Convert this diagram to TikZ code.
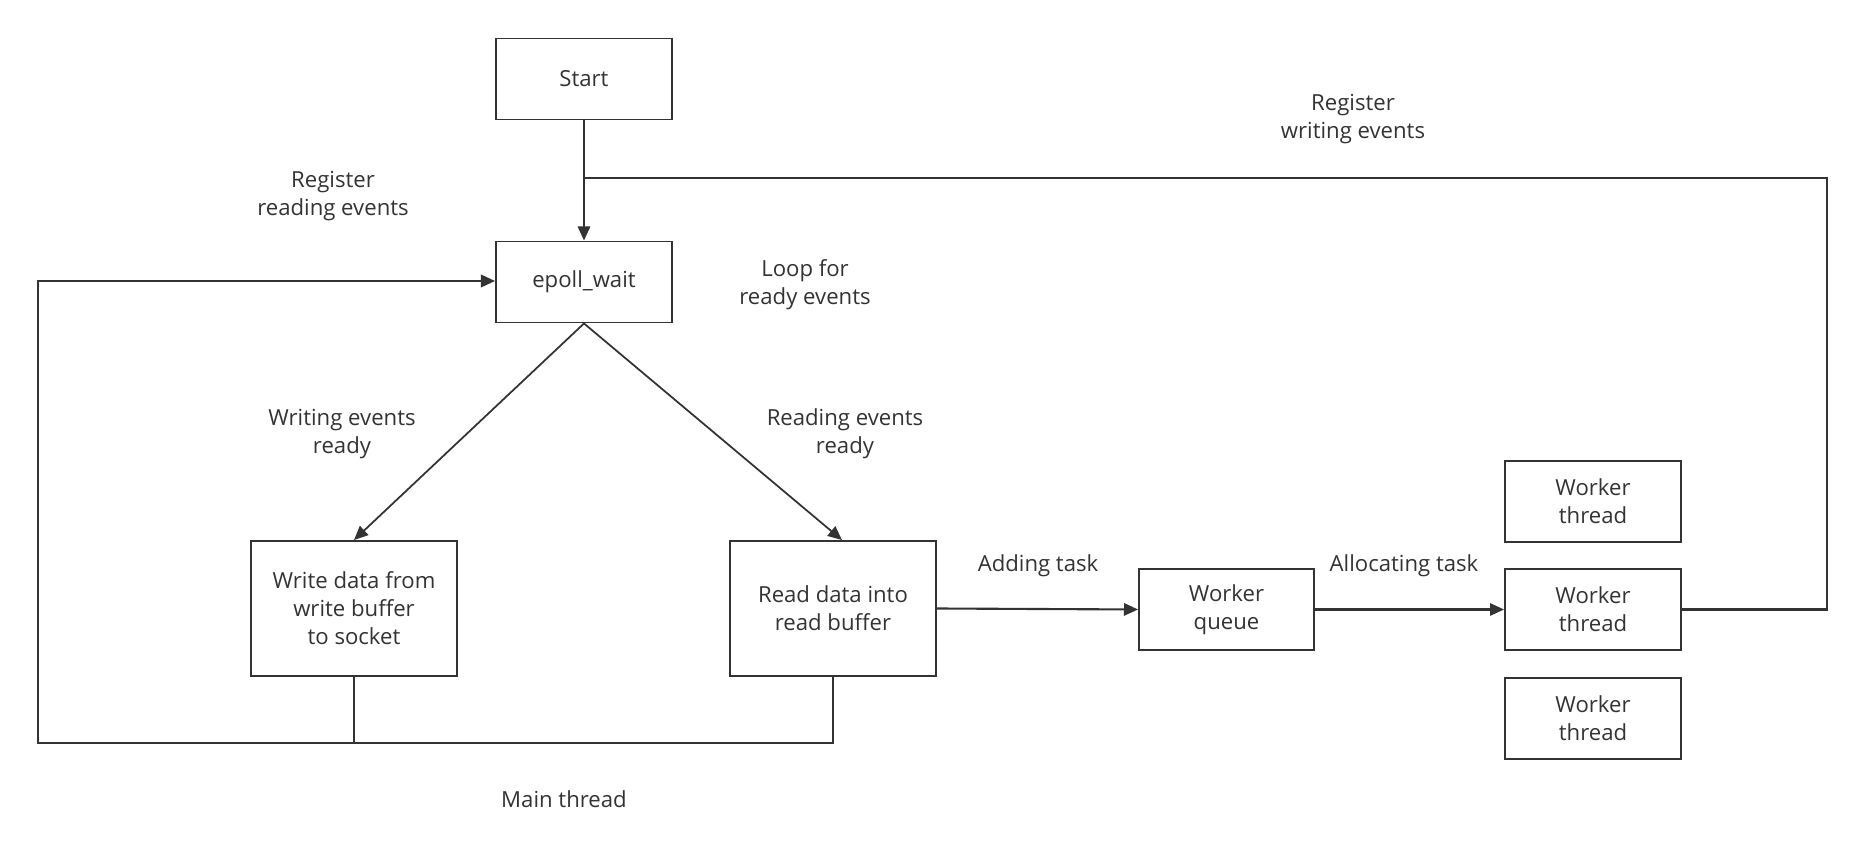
\documentclass[tikz,border=0pt]{standalone}
\usepackage{fontspec}
\setmainfont{Open Sans}
\usetikzlibrary{arrows.meta}

\definecolor{ink}{HTML}{333333}

\begin{document}
\begin{tikzpicture}[x=0.02cm,y=-0.02cm,>={Triangle[length=8pt,width=7pt]},
  font=\fontsize{12.6}{16}\selectfont,
  box/.style={draw=ink,line width=1.1pt,text=ink,align=center,inner sep=0pt,
    minimum width=3.52cm,minimum height=1.62cm},
  bigbox/.style={box,minimum width=4.12cm,minimum height=2.7cm},
  wire/.style={draw=ink,line width=1.2pt},
  lbl/.style={text=ink,align=center,inner sep=0pt}]

\useasboundingbox (0,0) rectangle (1864,864);

% boxes
\node[box] (start) at (584,79) {Start};
\node[box] (epoll) at (584,282) {epoll\_wait};
\node[bigbox] (write) at (354,608.5) {Write data from\\write buffer\\to socket};
\node[bigbox] (read) at (833,608.5) {Read data into\\read buffer};
\node[box,minimum width=3.5cm] (queue) at (1226.5,609.5) {Worker\\queue};
\node[box] (wt1) at (1593,501.5) {Worker\\thread};
\node[box] (wt2) at (1593,609.5) {Worker\\thread};
\node[box] (wt3) at (1593,718.5) {Worker\\thread};

% corner points of the wires
\coordinate (junc) at (584,178);
\coordinate (ne) at (1827,178);
\coordinate (sw) at (38,743);

% main thread
\draw[wire,->] (start.south) -- (epoll.north);
\draw[wire,line width=1pt,->] (epoll.south) -- (write.north);
\draw[wire,line width=1pt,->] (epoll.south) -- ([xshift=0.18cm]read.north);
\draw[wire,line width=1pt] (read.south) |- (sw);
\draw[wire,line width=1.5pt,->] (write.south) |- (sw) |- ([yshift=0.02cm]epoll.west);

% worker side
\draw[wire,->] (read.east) -- (queue.west);
\draw[wire,->] (queue.east) -- (wt2.west);
\draw[wire] (wt2.east) -| (ne) -- (junc);

% labels
\node[lbl] (regread) at (333,196) {Register\\reading events};
\node[lbl] (loop) at (805,285) {Loop for\\ready events};
\node[lbl] (wready) at (342,434) {Writing events\\ready};
\node[lbl] (rready) at (845,434) {Reading events\\ready};
\node[lbl] (regwrite) at (1353,119) {Register\\writing events};
\node[lbl] (mainth) at (564,799) {Main thread};
\node[lbl] (addtask) at (1038,566) {Adding task};
\node[lbl] (alloctask) at (1404,566) {Allocating task};

\end{tikzpicture}
\end{document}
